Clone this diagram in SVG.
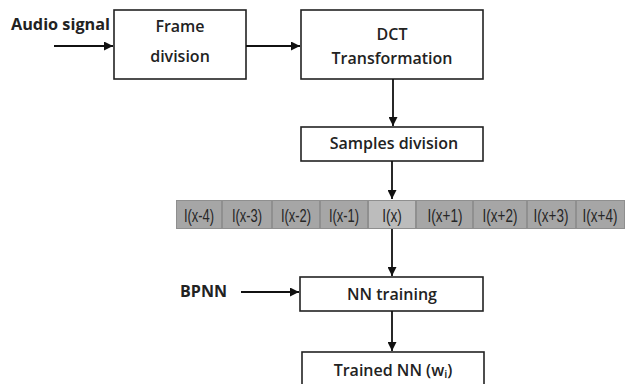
<svg xmlns="http://www.w3.org/2000/svg" width="625" height="384" viewBox="0 0 625 384">
  <defs>
    <marker id="arrow" viewBox="0 0 10 10" refX="10" refY="5" markerWidth="9" markerHeight="9" markerUnits="userSpaceOnUse" orient="auto">
      <path d="M0,0 L10,5 L0,10 z" fill="#111"/>
    </marker>
    <style>
      .box { fill: #fff; stroke: #222; stroke-width: 1.6; }
      .lbl { font-family: "Open Sans", "Liberation Sans", sans-serif; font-weight: 600; font-size: 16px; fill: #222; text-anchor: middle; }
      .side { font-family: "Open Sans", "Liberation Sans", sans-serif; font-weight: 700; font-size: 16px; fill: #222; }
      .cell { fill: #a6a6a6; stroke: #8f8f8f; stroke-width: 1; }
      .cell.mid { fill: #bcbcbc; }
      .ctext { font-family: "Liberation Sans", "DejaVu Sans", sans-serif; font-size: 18px; fill: #262626; text-anchor: middle; }
      .wire { stroke: #111; stroke-width: 1.8; fill: none; }
    </style>
  </defs>

  <rect width="625" height="384" fill="#fff"/>

  <!-- input labels -->
  <text class="side" x="11" y="30" textLength="99" lengthAdjust="spacingAndGlyphs">Audio signal</text>
  <text class="side" x="180" y="297" textLength="47" lengthAdjust="spacingAndGlyphs">BPNN</text>

  <!-- processing blocks -->
  <g id="frame">
    <rect class="box" x="114" y="10" width="132" height="69"/>
    <text class="lbl" x="180" y="32">Frame</text>
    <text class="lbl" x="180" y="62">division</text>
  </g>
  <g id="dct">
    <rect class="box" x="301" y="10" width="182" height="69"/>
    <text class="lbl" x="392" y="40">DCT</text>
    <text class="lbl" x="392" y="64">Transformation</text>
  </g>
  <g id="samples">
    <rect class="box" x="301" y="127" width="182" height="34"/>
    <text class="lbl" x="394" y="149">Samples division</text>
  </g>

  <!-- sample window strip: condensed labels via horizontal scaling -->
  <g id="strip">
    <rect class="cell" x="176.5" y="200.5" width="45" height="28"/>
    <rect class="cell" x="222.5" y="200.5" width="49" height="28"/>
    <rect class="cell" x="272.5" y="200.5" width="47" height="28"/>
    <rect class="cell" x="320.5" y="200.5" width="47" height="28"/>
    <rect class="cell mid" x="368.5" y="200.5" width="47" height="28"/>
    <rect class="cell" x="416.5" y="200.5" width="56" height="28"/>
    <rect class="cell" x="473.5" y="200.5" width="53" height="28"/>
    <rect class="cell" x="527.5" y="200.5" width="48" height="28"/>
    <rect class="cell" x="576.5" y="200.5" width="48" height="28"/>
    <text class="ctext" transform="translate(199,222) scale(0.72,1)">I(x-4)</text>
    <text class="ctext" transform="translate(247,222) scale(0.72,1)">I(x-3)</text>
    <text class="ctext" transform="translate(296,222) scale(0.72,1)">I(x-2)</text>
    <text class="ctext" transform="translate(344,222) scale(0.72,1)">I(x-1)</text>
    <text class="ctext" transform="translate(392,222) scale(0.76,1)">I(x)</text>
    <text class="ctext" transform="translate(445,222) scale(0.75,1)">I(x+1)</text>
    <text class="ctext" transform="translate(500,222) scale(0.75,1)">I(x+2)</text>
    <text class="ctext" transform="translate(551,222) scale(0.75,1)">I(x+3)</text>
    <text class="ctext" transform="translate(600,222) scale(0.75,1)">I(x+4)</text>
  </g>

  <g id="training">
    <rect class="box" x="300" y="277" width="183" height="34"/>
    <text class="lbl" x="392" y="300">NN training</text>
  </g>
  <g id="trained">
    <rect class="box" x="302" y="352" width="182" height="40"/>
    <text class="lbl" x="393" y="376">Trained NN (w<tspan font-size="11" dy="2">i</tspan><tspan dy="-2">)</tspan></text>
  </g>

  <!-- connectors -->
  <g id="connectors">
    <line class="wire" x1="54" y1="46" x2="113" y2="46" marker-end="url(#arrow)"/>
    <line class="wire" x1="246" y1="46" x2="300" y2="46" marker-end="url(#arrow)"/>
    <line class="wire" x1="393" y1="79" x2="393" y2="126" marker-end="url(#arrow)"/>
    <line class="wire" x1="392" y1="161" x2="392" y2="199" marker-end="url(#arrow)"/>
    <line class="wire" x1="392" y1="229" x2="392" y2="276" marker-end="url(#arrow)"/>
    <line class="wire" x1="241" y1="292" x2="299" y2="292" marker-end="url(#arrow)"/>
    <line class="wire" x1="392" y1="311" x2="392" y2="351" marker-end="url(#arrow)"/>
  </g>
</svg>
